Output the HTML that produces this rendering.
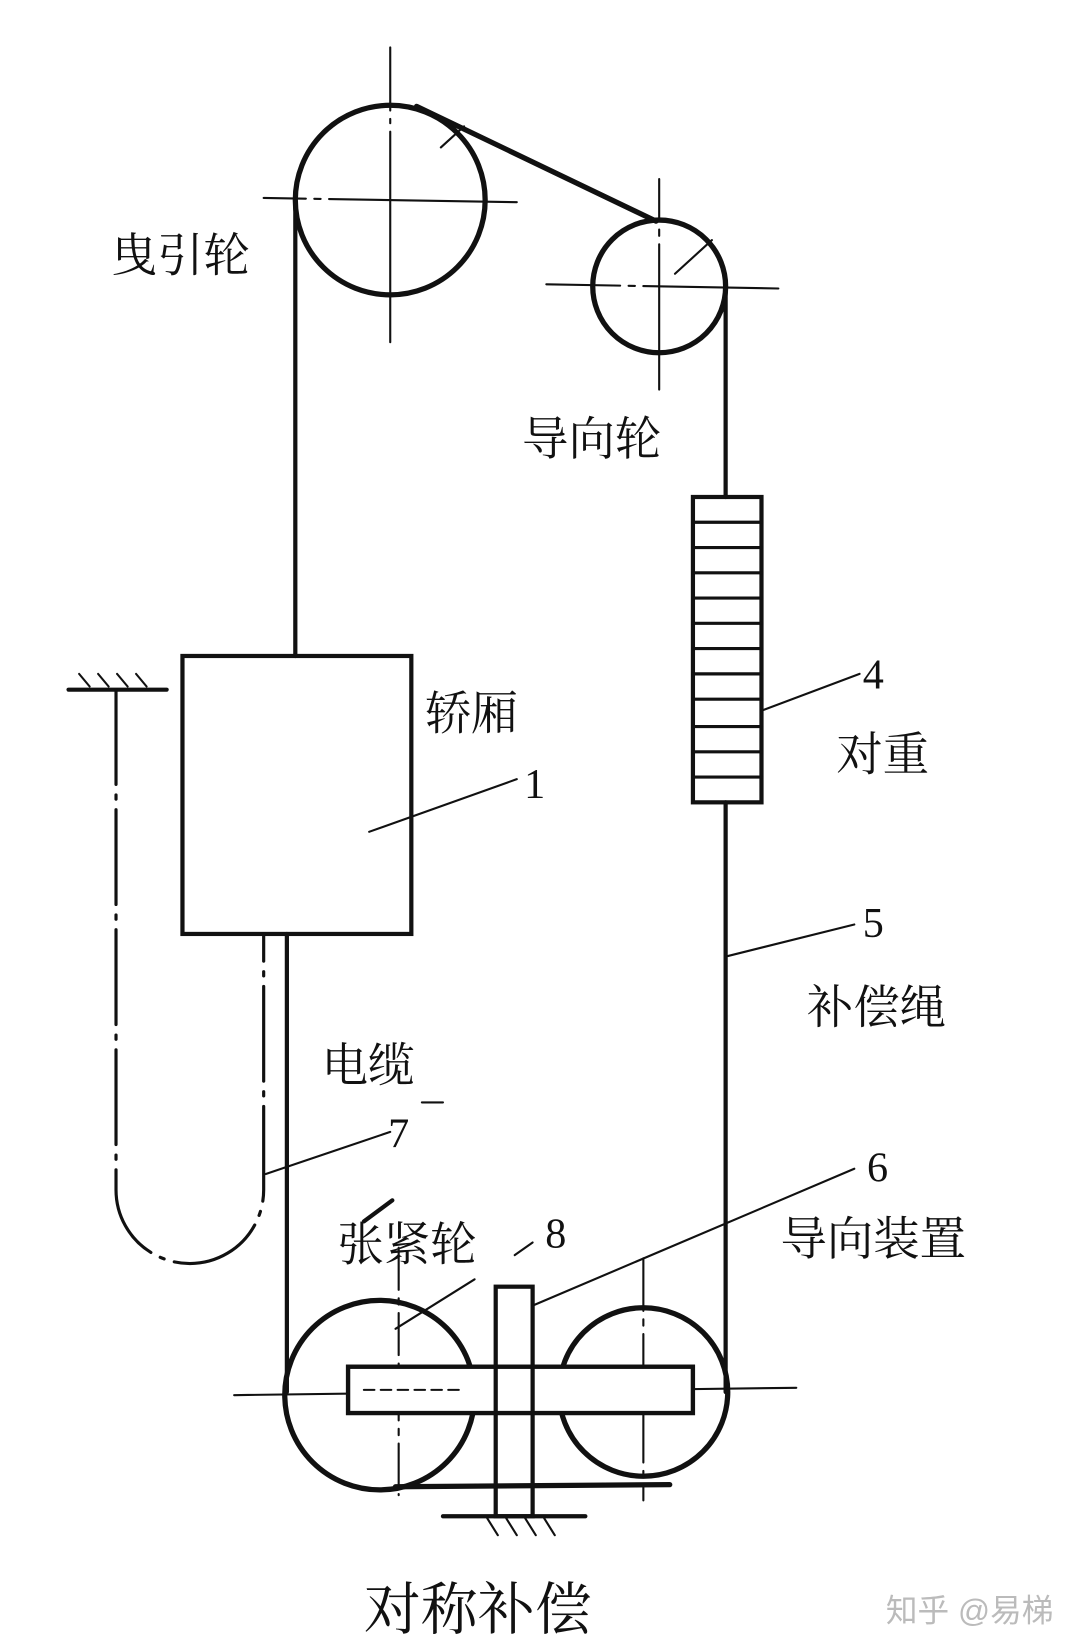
<!DOCTYPE html>
<html><head><meta charset="utf-8"><style>
html,body{margin:0;padding:0;background:#fff;}
svg{display:block;}
text{font-family:"Liberation Serif","Noto Serif CJK SC","Noto Sans CJK SC",serif;fill:#111;}
</style></head><body>
<svg width="1080" height="1651" viewBox="0 0 1024 1568" preserveAspectRatio="none" xmlns="http://www.w3.org/2000/svg">
<rect width="1024" height="1568" fill="#fff"/>
<g stroke="#111" fill="none" stroke-linecap="round">
<!-- traction wheel -->
<circle cx="370" cy="190" r="90" stroke-width="5"/>
<line x1="370" y1="45" x2="370" y2="325" stroke-width="2" stroke-dasharray="60,8,4,8,200"/>
<line x1="250" y1="188" x2="490" y2="192" stroke-width="2" stroke-dasharray="40,8,6,8,200"/>
<line x1="395" y1="101" x2="622" y2="210" stroke-width="5"/>
<line x1="418" y1="140" x2="440" y2="120" stroke-width="2"/>
<!-- guide wheel -->
<circle cx="625" cy="272" r="63" stroke-width="5"/>
<line x1="625" y1="170" x2="625" y2="370" stroke-width="2" stroke-dasharray="40,8,6,8,200"/>
<line x1="518" y1="270" x2="738" y2="274" stroke-width="2" stroke-dasharray="70,8,6,8,300"/>
<line x1="640" y1="260" x2="675" y2="228" stroke-width="2"/>
<!-- ropes -->
<line x1="280" y1="190" x2="280" y2="623" stroke-width="4"/>
<line x1="688" y1="272" x2="688" y2="472" stroke-width="4"/>
<line x1="688" y1="762" x2="688" y2="1322" stroke-width="4"/>
<line x1="272" y1="887" x2="272" y2="1322" stroke-width="4"/>
<!-- counterweight -->
<rect x="657" y="472" width="65" height="290" stroke-width="4"/>
<g stroke-width="3">
<line x1="657" y1="496" x2="722" y2="496"/><line x1="657" y1="520" x2="722" y2="520"/>
<line x1="657" y1="544" x2="722" y2="544"/><line x1="657" y1="568" x2="722" y2="568"/>
<line x1="657" y1="592" x2="722" y2="592"/><line x1="657" y1="616" x2="722" y2="616"/>
<line x1="657" y1="640" x2="722" y2="640"/><line x1="657" y1="664" x2="722" y2="664"/>
<line x1="657" y1="690" x2="722" y2="690"/><line x1="657" y1="714" x2="722" y2="714"/>
<line x1="657" y1="738" x2="722" y2="738"/>
</g>
<!-- car -->
<rect x="173" y="623" width="217" height="264" stroke-width="4"/>
<!-- hatch top-left -->
<line x1="65" y1="655" x2="158" y2="655" stroke-width="4"/>
<g stroke-width="2"><line x1="75" y1="640" x2="85" y2="652"/><line x1="93" y1="640" x2="103" y2="652"/><line x1="111" y1="640" x2="121" y2="652"/><line x1="129" y1="640" x2="139" y2="652"/></g>
<!-- cable -->
<path d="M110 655 V1130 A70 70 0 0 0 250 1130 V887" stroke-width="3" stroke-dasharray="90,10,4,10"/>
<!-- bottom wheels -->
<circle cx="360" cy="1325" r="90" stroke-width="5"/>
<circle cx="610" cy="1322" r="80" stroke-width="5"/>
<line x1="222" y1="1325" x2="755" y2="1318" stroke-width="2"/>
<line x1="378" y1="1185" x2="378" y2="1420" stroke-width="2" stroke-dasharray="40,8,6,8"/>
<line x1="610" y1="1195" x2="610" y2="1425" stroke-width="2" stroke-dasharray="50,8,6,8"/>
<line x1="375" y1="1412" x2="635" y2="1410" stroke-width="5"/>
<rect x="330" y="1298" width="327" height="44" stroke-width="4" fill="#fff"/>
<line x1="345" y1="1320" x2="440" y2="1320" stroke-width="2" stroke-dasharray="10,6"/>
<rect x="470" y="1222" width="35" height="218" stroke-width="4" fill="none"/>
<rect x="330" y="1298" width="327" height="44" stroke-width="4"/>
<line x1="420" y1="1440" x2="555" y2="1440" stroke-width="4"/>
<g stroke-width="2"><line x1="462" y1="1442" x2="472" y2="1458"/><line x1="480" y1="1442" x2="490" y2="1458"/><line x1="498" y1="1442" x2="508" y2="1458"/><line x1="516" y1="1442" x2="526" y2="1458"/></g>
<!-- leaders -->
<g stroke-width="2">
<line x1="350" y1="790" x2="490" y2="740"/>
<line x1="722" y1="675" x2="815" y2="640"/>
<line x1="690" y1="908" x2="810" y2="878"/>
<line x1="252" y1="1115" x2="370" y2="1075"/>
<line x1="505" y1="1240" x2="810" y2="1110"/>
<line x1="375" y1="1262" x2="450" y2="1215"/>
<line x1="488" y1="1192" x2="505" y2="1180"/>
<line x1="345" y1="1160" x2="372" y2="1140" stroke-width="4"/>
<line x1="400" y1="1047" x2="420" y2="1047"/>
</g>
</g>
<g font-size="44">
<text x="105" y="258">曳引轮</text>
<text x="495" y="432">导向轮</text>
<text x="403" y="693">轿厢</text>
<text x="793" y="732">对重</text>
<text x="765" y="972">补偿绳</text>
<text x="305" y="1027">电缆</text>
<text x="740" y="1192">导向装置</text>
<text x="320" y="1197">张紧轮</text>
</g>
<g font-size="40">
<text x="497" y="758">1</text>
<text x="818" y="654">4</text>
<text x="818" y="890">5</text>
<text x="368" y="1090">7</text>
<text x="822" y="1122">6</text>
<text x="517" y="1185">8</text>
</g>
<text x="345" y="1547" font-size="54">对称补偿</text>
<text x="840" y="1540" font-size="30" style="fill:#bbb;font-family:'Liberation Sans','Noto Sans CJK SC',sans-serif">知乎 @易梯</text>
</svg>
</body></html>
